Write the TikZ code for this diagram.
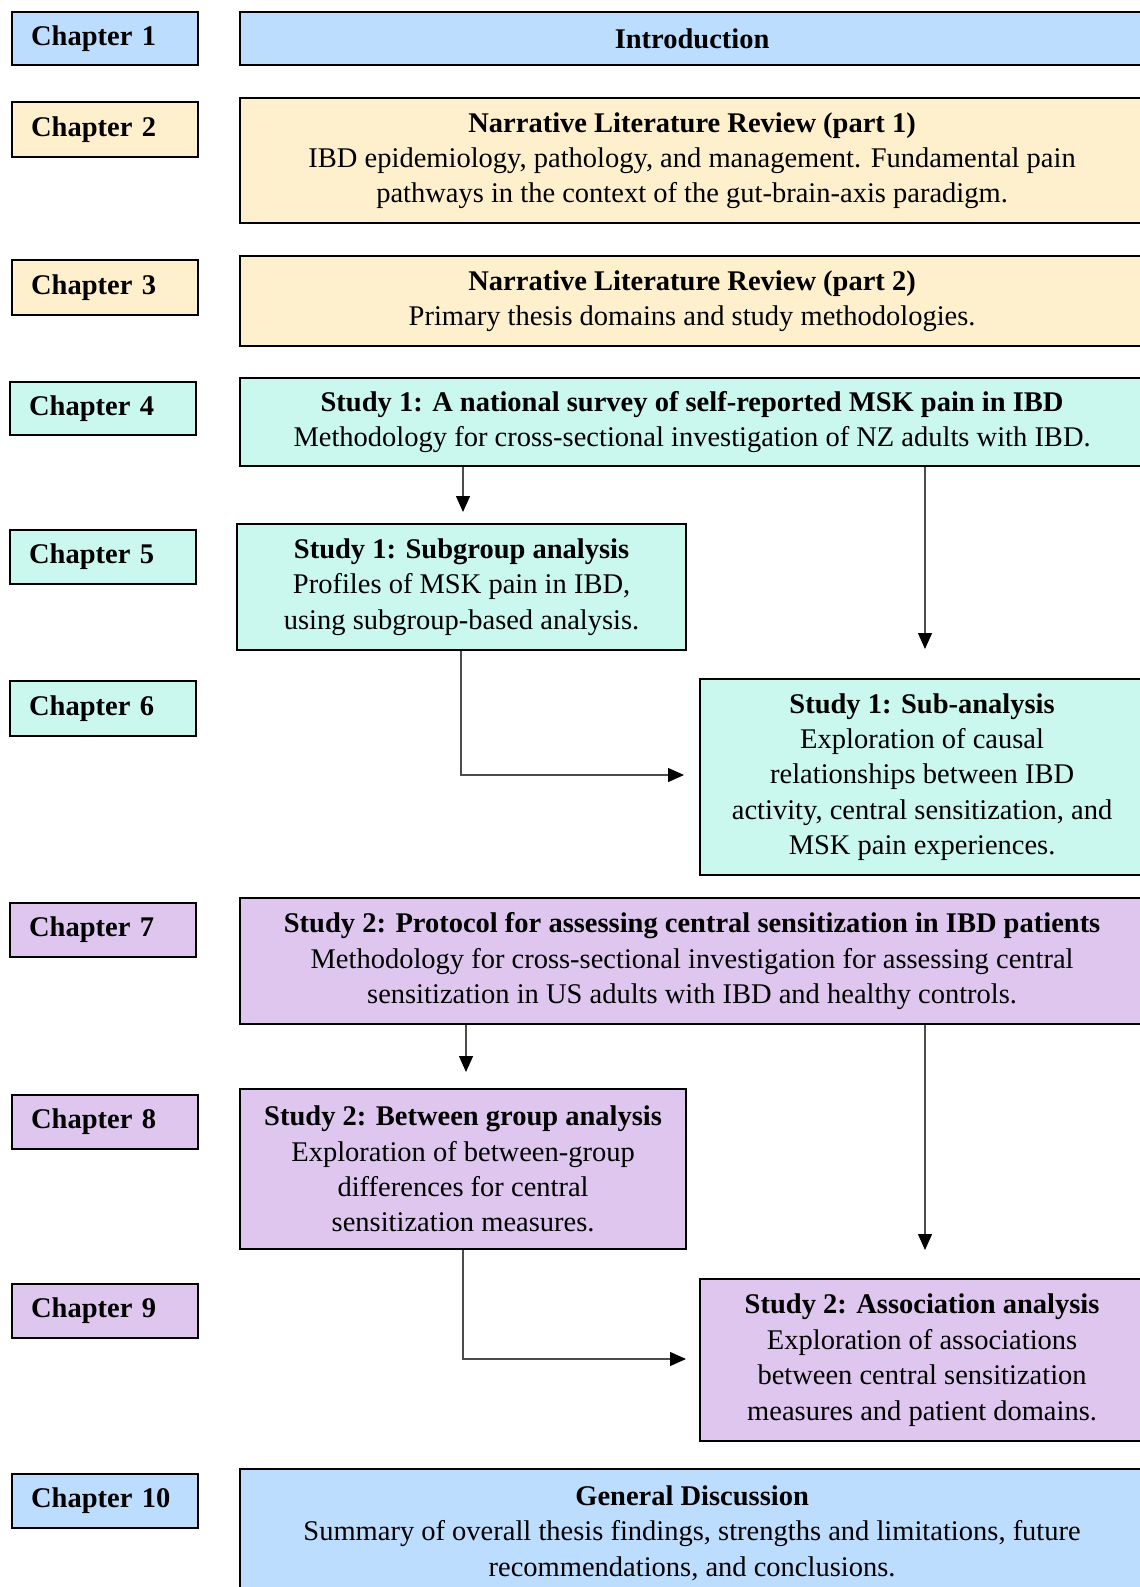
\documentclass[tikz,border=0pt]{standalone}
\usepackage{fontspec}
\setmainfont{Liberation Serif}
\usetikzlibrary{arrows.meta}
\definecolor{cblue}{RGB}{189,221,254}
\definecolor{cyellow}{RGB}{255,240,205}
\definecolor{ccyan}{RGB}{202,247,238}
\definecolor{cpurple}{RGB}{222,198,238}
\begin{document}
\begin{tikzpicture}[x=1pt,y=-1pt,
  every node/.style={font=\fontsize{28.5}{35.4}\selectfont},
  boxbase/.style={draw=black,line width=2.2pt,rectangle,inner sep=0pt,anchor=north west},
  chap/.style={boxbase,minimum height=#1,text width=148pt,inner xsep=19pt,align=left,font=\fontsize{28.5}{35.4}\selectfont\bfseries},
  mainbox/.style n args={2}{boxbase,minimum width=#1,minimum height=#2,align=center},
  arr/.style={draw=black!70,line width=1.3pt,-{Triangle[width=14pt,length=16pt,fill=black,color=black]}},
]
\useasboundingbox (0,0) rectangle (1140,1587);
\clip (0,0) rectangle (1140,1587);

% chapter boxes
\node[chap=53,fill=cblue]   (ch1)  at (11,11)   {Chapter 1};
\node[chap=55,fill=cyellow] (ch2)  at (11,101)  {Chapter 2};
\node[chap=55,fill=cyellow] (ch3)  at (11,259)  {Chapter 3};
\node[chap=53,fill=ccyan]   (ch4)  at (9,381)   {Chapter 4};
\node[chap=54,fill=ccyan]   (ch5)  at (9,529)   {Chapter 5};
\node[chap=55,fill=ccyan]   (ch6)  at (9,680)   {Chapter 6};
\node[chap=54,fill=cpurple] (ch7)  at (9,902)   {Chapter 7};
\node[chap=54,fill=cpurple] (ch8)  at (11,1094) {Chapter 8};
\node[chap=54,fill=cpurple] (ch9)  at (11,1283) {Chapter 9};
\node[chap=54,fill=cblue]   (ch10) at (11,1473) {Chapter 10};

% content boxes
\node[mainbox={904}{53},fill=cblue] (intro) at (239,11) {\textbf{Introduction}};
\node[mainbox={904}{125},fill=cyellow] (narr1) at (239,97)
  {\textbf{Narrative Literature Review (part 1)}\\IBD epidemiology, pathology, and management. Fundamental pain\\pathways in the context of the gut-brain-axis paradigm.};
\node[mainbox={904}{90},fill=cyellow] (narr2) at (239,255)
  {\textbf{Narrative Literature Review (part 2)}\\Primary thesis domains and study methodologies.};
\node[mainbox={904}{88},fill=ccyan] (study1) at (239,377)
  {\textbf{Study 1: A national survey of self-reported MSK pain in IBD}\\Methodology for cross-sectional investigation of NZ adults with IBD.};
\node[mainbox={449}{126},fill=ccyan] (sub) at (236,523)
  {\textbf{Study 1: Subgroup analysis}\\Profiles of MSK pain in IBD,\\using subgroup-based analysis.};
\node[mainbox={444}{196},fill=ccyan] (subana) at (699,678)
  {\textbf{Study 1: Sub-analysis}\\Exploration of causal\\relationships between IBD\\activity, central sensitization, and\\MSK pain experiences.};
\node[mainbox={904}{126},fill=cpurple] (study2) at (239,897)
  {\textbf{Study 2: Protocol for assessing central sensitization in IBD patients}\\Methodology for cross-sectional investigation for assessing central\\sensitization in US adults with IBD and healthy controls.};
\node[mainbox={446}{160},fill=cpurple] (between) at (239,1088)
  {\textbf{Study 2: Between group analysis}\\Exploration of between-group\\differences for central\\sensitization measures.};
\node[mainbox={444}{162},fill=cpurple] (assoc) at (699,1278)
  {\textbf{Study 2: Association analysis}\\Exploration of associations\\between central sensitization\\measures and patient domains.};
\node[mainbox={904}{128},fill=cblue] (general) at (239,1468)
  {\textbf{General Discussion}\\Summary of overall thesis findings, strengths and limitations, future\\recommendations, and conclusions.};

% arrow end points
\coordinate (t1) at (463,512);
\coordinate (t2) at (925,649);
\coordinate (k3) at (461,775);
\coordinate (t3) at (684,775);
\coordinate (t4) at (466,1072);
\coordinate (t5) at (925,1250);
\coordinate (k6) at (463,1359);
\coordinate (t6) at (686,1359);

\draw[arr] (t1 |- study1.south) -- (t1);
\draw[arr] (t2 |- study1.south) -- (t2);
\draw[arr] (k3 |- sub.south) -- (k3) -- (t3);
\draw[arr] (t4 |- study2.south) -- (t4);
\draw[arr] (t5 |- study2.south) -- (t5);
\draw[arr] (k6 |- between.south) -- (k6) -- (t6);
\end{tikzpicture}
\end{document}
